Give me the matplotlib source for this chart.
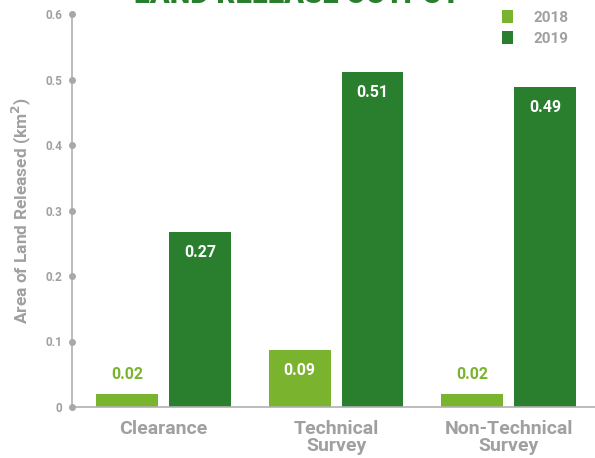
import matplotlib.pyplot as plt
import numpy as np

categories = ['Clearance', 'Technical\nSurvey', 'Non-Technical\nSurvey']
vals_2018 = [0.02, 0.087, 0.02]
vals_2019 = [0.267, 0.511, 0.489]
labels_2018 = ['0.02', '0.09', '0.02']
labels_2019 = ['0.27', '0.51', '0.49']
yticks = [0, 0.1, 0.2, 0.3, 0.4, 0.5, 0.6]
ytick_labels = ['0', '0.1', '0.2', '0.3', '0.4', '0.5', '0.6']

light = '#7ab32e'
dark = '#2a7f2e'
gray = '#a0a0a0'

plt.rcParams['font.family'] = ['Roboto', 'DejaVu Sans']
plt.rcParams['font.weight'] = 'bold'

fig = plt.figure(figsize=(5.95, 4.58), dpi=100)
ax = fig.add_axes([72/595, 51/458, 523/595, 393/458])

x = np.arange(len(categories))
w = 0.359
off = 0.211
ax.bar(x - off, vals_2018, w, color=light, label='2018')
ax.bar(x + off, vals_2019, w, color=dark, label='2019')

for xi, v, t in zip(x, vals_2018, labels_2018):
    if v > 0.05:
        ax.text(xi - off, v - 0.032, t, ha='center', va='center', color='white', fontsize=11.5, fontweight='bold')
    else:
        ax.text(xi - off, v + 0.029, t, ha='center', va='center', color=light, fontsize=11.5, fontweight='bold')
for xi, v, t in zip(x, vals_2019, labels_2019):
    ax.text(xi + off, v - 0.031, t, ha='center', va='center', color='white', fontsize=11.5, fontweight='bold')

ax.set_xlim(-0.53, 2.5)
ax.set_ylim(0, 0.6)
ax.set_yticks(yticks)
ax.set_yticklabels(ytick_labels)
ax.set_xticks(x)
ax.set_xticklabels(categories, fontsize=14, color=gray, fontweight='bold', linespacing=0.95)
ax.tick_params(axis='x', length=0, pad=9)
ax.tick_params(axis='y', length=0, pad=7, labelsize=8.5, labelcolor=gray)
for s in ['top', 'right']:
    ax.spines[s].set_visible(False)
for s in ['left', 'bottom']:
    ax.spines[s].set_color('#b0b0b0')
    ax.spines[s].set_linewidth(1.2)
ax.plot(np.zeros(len(yticks)) - 0.53, yticks, 'o', color='#a8a8a8', markersize=4, clip_on=False, zorder=5)

ax.set_ylabel('Area of Land Released (km$^2$)', fontsize=12.5, color=gray, fontweight='bold', labelpad=9)

leg = ax.legend(loc='upper right', bbox_to_anchor=(0.975, 1.045), frameon=False, fontsize=11,
                handlelength=0.75, handleheight=0.95, handletextpad=1.3, labelspacing=0.4)
for t in leg.get_texts():
    t.set_color(gray)

fig.text(0.5, 1.012, 'LAND RELEASE OUTPUT', ha='center', va='center', fontsize=21,
         fontweight='heavy', color=dark)

fig.savefig('out.png', dpi=100)
